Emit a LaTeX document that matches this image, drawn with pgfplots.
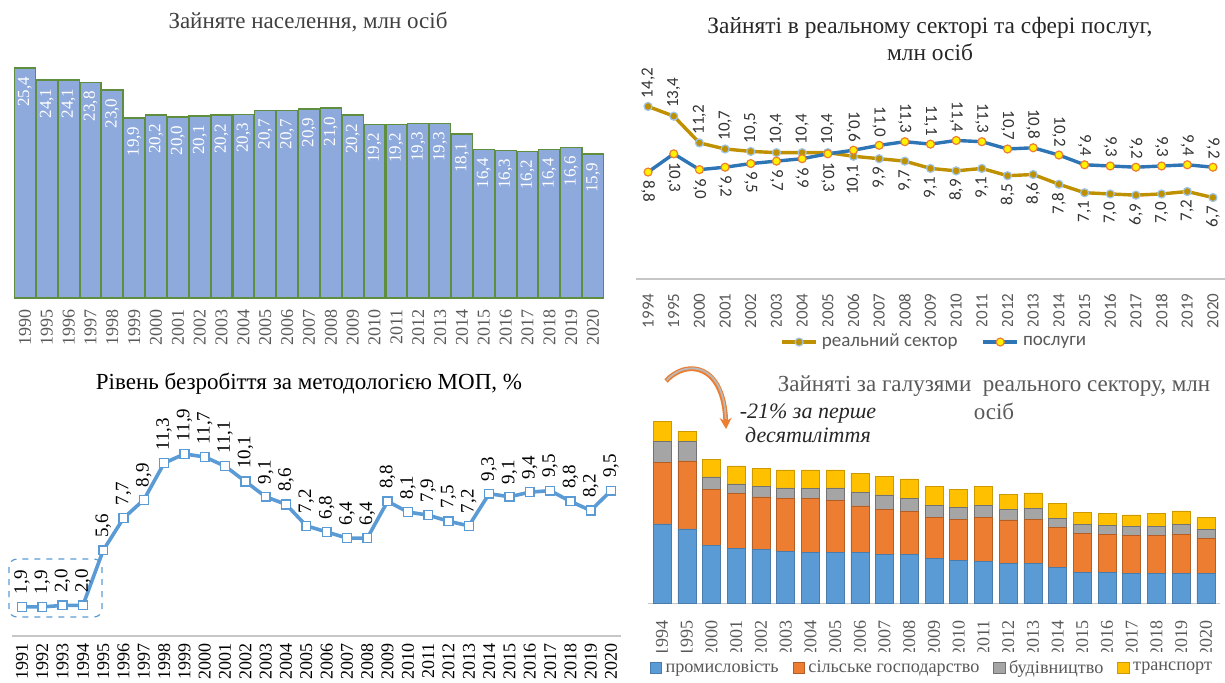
\documentclass[border=0pt]{standalone}
\usepackage{fontspec}
\setmainfont{Liberation Serif}
\newfontfamily\calibri{Carlito}
\usepackage{pgfplots}
\pgfplotsset{compat=1.18}
\usepackage{pgfplotstable}
\usetikzlibrary{arrows.meta}

\definecolor{barblue}{HTML}{8EA9DB}
\definecolor{bargreen}{HTML}{5E8E3E}
\definecolor{gold}{HTML}{BF9000}
\definecolor{lblue}{HTML}{9DC3E6}
\definecolor{sblue}{HTML}{2E75B6}
\definecolor{mblue}{HTML}{5B9BD5}
\definecolor{xorange}{HTML}{ED7D31}
\definecolor{xgray}{HTML}{A5A5A5}
\definecolor{xgold}{HTML}{FFC000}
\definecolor{txtgray}{HTML}{595959}

\pgfplotstableread{
x y
0 25.4
1 24.1
2 24.1
3 23.8
4 23.0
5 19.9
6 20.2
7 20.0
8 20.1
9 20.2
10 20.3
11 20.7
12 20.7
13 20.9
14 21.0
15 20.2
16 19.2
17 19.2
18 19.3
19 19.3
20 18.1
21 16.4
22 16.3
23 16.2
24 16.4
25 16.6
26 15.9
}\popdata

\pgfplotstableread{
x real serv
0 14.2 8.8
1 13.4 10.3
2 11.2 9.0
3 10.7 9.2
4 10.5 9.5
5 10.4 9.7
6 10.4 9.9
7 10.4 10.3
8 10.1 10.6
9 9.9 11.0
10 9.7 11.3
11 9.1 11.1
12 8.9 11.4
13 9.1 11.3
14 8.5 10.7
15 8.6 10.8
16 7.8 10.2
17 7.1 9.4
18 7.0 9.3
19 6.9 9.2
20 7.0 9.3
21 7.2 9.4
22 6.7 9.2
}\sectors

\pgfplotstableread{
x y
0 1.9
1 1.9
2 2.0
3 2.0
4 5.6
5 7.7
6 8.9
7 11.3
8 11.9
9 11.7
10 11.1
11 10.1
12 9.1
13 8.6
14 7.2
15 6.8
16 6.4
17 6.4
18 8.8
19 8.1
20 7.9
21 7.5
22 7.2
23 9.3
24 9.1
25 9.4
26 9.5
27 8.8
28 8.2
29 9.5
}\unemp

\pgfplotstableread{
x ind agr con tr
0 6.2 4.8 1.6 1.6
1 5.8 5.3 1.5 0.8
2 4.55 4.35 0.95 1.35
3 4.3 4.25 0.75 1.4
4 4.2 4.1 0.8 1.4
5 4.05 4.15 0.8 1.4
6 4.0 4.15 0.8 1.45
7 3.95 4.1 0.95 1.4
8 3.95 3.65 1.05 1.45
9 3.85 3.5 1.1 1.45
10 3.85 3.3 1.05 1.5
11 3.5 3.2 0.95 1.45
12 3.35 3.2 0.95 1.4
13 3.25 3.45 0.95 1.45
14 3.15 3.35 0.85 1.15
15 3.15 3.4 0.85 1.2
16 2.8 3.15 0.7 1.15
17 2.45 3.0 0.7 0.95
18 2.45 2.9 0.75 0.9
19 2.35 2.95 0.7 0.9
20 2.35 2.95 0.7 1.0
21 2.35 3.05 0.75 1.05
22 2.35 2.7 0.7 0.95
}\branches

\pgfplotsset{
  base/.style={
    scale only axis, enlargelimits=false, clip=false, anchor=south west,
    axis x line=bottom, axis y line=none,
    x axis line style={-, draw=gray!45, line width=0.7pt},
    ytick=\empty,
    xtick style={draw=none},
    x tick label style={rotate=90, anchor=east},
    /pgf/number format/fixed,
    /pgf/number format/fixed zerofill,
    /pgf/number format/precision=1,
    /pgf/number format/use comma,
    /pgf/number format/assume math mode=true,
  }
}

\begin{document}
\begin{tikzpicture}
\useasboundingbox (0,0) rectangle (612.5pt,341.5pt);

% ---------- Panel 1 ----------
\node[font=\fontsize{11.5}{13}\selectfont, text=black!75] at (154pt,330.5pt) {Зайняте населення, млн осіб};
\begin{axis}[base, at={(7pt,192.5pt)}, width=295pt, height=117.65pt,
  xmin=-0.5, xmax=26.5, ymin=0, ymax=26,
  xtick={0,...,26},
  xticklabels={1990,1995,1996,1997,1998,1999,2000,2001,2002,2003,2004,2005,2006,2007,2008,2009,2010,2011,2012,2013,2014,2015,2016,2017,2018,2019,2020},
  x tick label style={font=\fontsize{9}{9}\selectfont, text=txtgray, inner xsep=3.5pt},
]
\addplot[ybar, bar width=10.6pt, fill=barblue, draw=bargreen, line width=0.7pt,
  nodes near coords,
  every node near coord/.append style={rotate=90, anchor=east, inner xsep=4pt, font=\fontsize{8.5}{8.5}\selectfont, text=white}]
  table[x=x,y=y]{\popdata};
\end{axis}

% ---------- Panel 2 ----------
\node[font=\fontsize{11.7}{13.5}\selectfont, text=black!85, align=center] at (465pt,322pt) {Зайняті в реальному секторі та сфері послуг,\\млн осіб};
\begin{axis}[base, at={(318pt,202pt)}, width=294.5pt, height=91.125pt,
  xmin=-0.47, xmax=22.47, ymin=0, ymax=15,
  xtick={0,...,22},
  xticklabels={1994,1995,2000,2001,2002,2003,2004,2005,2006,2007,2008,2009,2010,2011,2012,2013,2014,2015,2016,2017,2018,2019,2020},
  x tick label style={font=\calibri\fontsize{8.5}{8.5}\selectfont, text=txtgray, inner xsep=5pt},
  legend style={at={(0.508,-0.346)}, anchor=center, draw=none, legend columns=2,
    font=\calibri\fontsize{9.5}{9.5}\selectfont, text=txtgray,
    /tikz/every even column/.append style={column sep=10pt}},
]
\addplot[gold, line width=1.7pt, mark=*, mark size=2pt, mark options={fill=gold, draw=lblue, line width=0.6pt}]
  table[x=x,y=real]{\sectors};
\addlegendentry{реальний сектор}
\addplot[sblue, line width=1.7pt, mark=*, mark size=2pt, mark options={fill=yellow, draw=xorange, line width=0.6pt}]
  table[x=x,y=serv]{\sectors};
\addlegendentry{послуги}
% labels
\addplot[forget plot, draw=none, mark=none, restrict x to domain=0:7, nodes near coords,
  every node near coord/.append style={rotate=90, anchor=west, inner xsep=4pt, font=\calibri\fontsize{8.5}{8.5}\selectfont, text=black!80}]
  table[x=x,y=real]{\sectors};
\addplot[forget plot, draw=none, mark=none, restrict x to domain=8:22, nodes near coords,
  every node near coord/.append style={rotate=90, anchor=east, inner xsep=4pt, font=\calibri\fontsize{8.5}{8.5}\selectfont, text=black!80}]
  table[x=x,y=real]{\sectors};
\addplot[forget plot, draw=none, mark=none, restrict x to domain=0:7, nodes near coords,
  every node near coord/.append style={rotate=-90, anchor=west, inner xsep=4pt, font=\calibri\fontsize{8.5}{8.5}\selectfont, text=black!80}]
  table[x=x,y=serv]{\sectors};
\addplot[forget plot, draw=none, mark=none, restrict x to domain=8:22, nodes near coords,
  every node near coord/.append style={rotate=-90, anchor=east, inner xsep=4pt, font=\calibri\fontsize{8.5}{8.5}\selectfont, text=black!80}]
  table[x=x,y=serv]{\sectors};
\end{axis}

% ---------- Panel 3 ----------
\node[font=\fontsize{11.5}{13}\selectfont, text=black] at (154.5pt,149.5pt) {Рівень безробіття за методологією МОП, \%};
\begin{axis}[base, at={(6pt,23.5pt)}, width=304.5pt, height=99.45pt,
  xmin=-0.49, xmax=29.49, ymin=0, ymax=13,
  xtick={0,...,29},
  xticklabels={1991,1992,1993,1994,1995,1996,1997,1998,1999,2000,2001,2002,2003,2004,2005,2006,2007,2008,2009,2010,2011,2012,2013,2014,2015,2016,2017,2018,2019,2020},
  x tick label style={font=\fontsize{9}{9}\selectfont, text=black, inner xsep=1.5pt},
]
\addplot[mblue, line width=1.8pt, mark=square*, mark size=2.2pt, mark options={fill=white, draw=mblue, line width=0.7pt},
  nodes near coords,
  every node near coord/.append style={rotate=90, anchor=west, inner xsep=6pt, font=\fontsize{9.5}{9.5}\selectfont, text=black}]
  table[x=x,y=y]{\unemp};
\draw[mblue, dashed, rounded corners=4pt, line width=0.6pt] (axis cs:-0.64,1.24) rectangle (axis cs:3.94,5.03);
\end{axis}

% ---------- Panel 4 ----------
\node[font=\fontsize{11.5}{14}\selectfont, text=txtgray, align=center] at (497pt,142.5pt) {Зайняті за галузями \ реального сектору, млн\\осіб};
\begin{axis}[base, at={(324pt,39.75pt)}, width=286pt, height=96.375pt,
  xmin=-0.57, xmax=22.57, ymin=0, ymax=15,
  ybar stacked, bar width=9pt,
  xtick={0,...,22},
  xticklabels={1994,1995,2000,2001,2002,2003,2004,2005,2006,2007,2008,2009,2010,2011,2012,2013,2014,2015,2016,2017,2018,2019,2020},
  x tick label style={font=\fontsize{9}{9}\selectfont, text=txtgray, inner xsep=6pt},
  legend style={at={(0.498,-0.335)}, anchor=center, draw=none, legend columns=4,
    font=\fontsize{9.1}{9.1}\selectfont, text=txtgray,
    /tikz/every even column/.append style={column sep=5pt}},
  legend image code/.code={\fill[#1] (0pt,-2.8pt) rectangle (5.6pt,2.8pt);},
]
\addplot[fill=mblue, draw=mblue!80!black, line width=0.3pt] table[x=x,y=ind]{\branches};
\addlegendentry{промисловість}
\addplot[fill=xorange, draw=xorange!75!black, line width=0.3pt] table[x=x,y=agr]{\branches};
\addlegendentry{сільське господарство}
\addplot[fill=xgray, draw=xgray!70!black, line width=0.3pt] table[x=x,y=con]{\branches};
\addlegendentry{будівництво}
\addplot[fill=xgold, draw=xgold!80!black, line width=0.3pt] table[x=x,y=tr]{\branches};
\addlegendentry{транспорт}
\end{axis}
\draw[-{Stealth[length=5.5pt,width=6pt]}, xorange, line width=2.4pt] (333pt,151pt) .. controls (343pt,162pt) and (362pt,160pt) .. (363pt,127pt);
\draw[gray!55, line width=0.9pt, shorten >=5pt, shorten <=0.6pt] (333pt,151pt) .. controls (343pt,162pt) and (362pt,160pt) .. (363pt,127pt);
\node[font=\itshape\fontsize{11}{12}\selectfont, text=black!85, align=center] at (404pt,130pt) {-21\% за перше\\десятиліття};
\end{tikzpicture}
\end{document}
